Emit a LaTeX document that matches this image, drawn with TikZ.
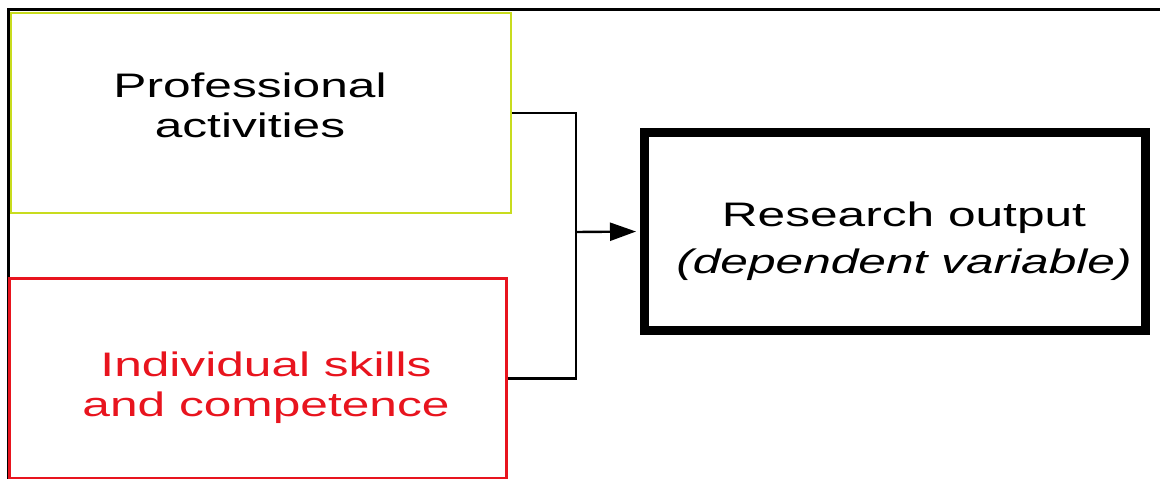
\documentclass[tikz,border=0pt]{standalone}
\usepackage{fontspec}
\setmainfont[FakeStretch=1.46]{Liberation Sans}
\usetikzlibrary{arrows.meta}
\definecolor{boxyellow}{HTML}{C8DC1E}
\definecolor{boxred}{HTML}{E8141E}
\begin{document}
\begin{tikzpicture}[x=1pt, y=-1pt, line width=2pt,
    main/.style = {draw, inner sep=0pt, minimum width=500pt, minimum height=200pt},
    words/.style = {align=center, font=\fontsize{34}{40}\selectfont},
    link/.style = {line width=2.4pt}]
    \useasboundingbox (0,0) rectangle (1160,479);
    \draw[line width=3pt] (1160,9) -| (8,479);

    \node[main, draw=boxyellow, line width=2.6pt, label={[words, xshift=-11pt, yshift=8pt]center:{Professional\\activities}}] (1) at (261,113) {};
    \node[main, draw=boxred, line width=3pt, minimum width=497pt, label={[words, text=boxred, xshift=8pt, yshift=-9pt]center:{Individual skills\\and competence}}] (2) at (258,378.5) {};
    \node[main, line width=9pt, minimum width=501pt, minimum height=198pt, label={[words, font=\fontsize{34}{47}\selectfont, xshift=9pt, yshift=-10pt]center:{Research output\\\textit{(dependent variable)}}}] (3) at (895,231.5) {};
    \coordinate (join) at (576,232);

    \draw[link] (1.east) -| (join) |- (2.east);
    \draw[link, -{Triangle[length=26pt,width=18pt]}, shorten >=4pt] (join) -- (3.west);
\end{tikzpicture}
\end{document}
